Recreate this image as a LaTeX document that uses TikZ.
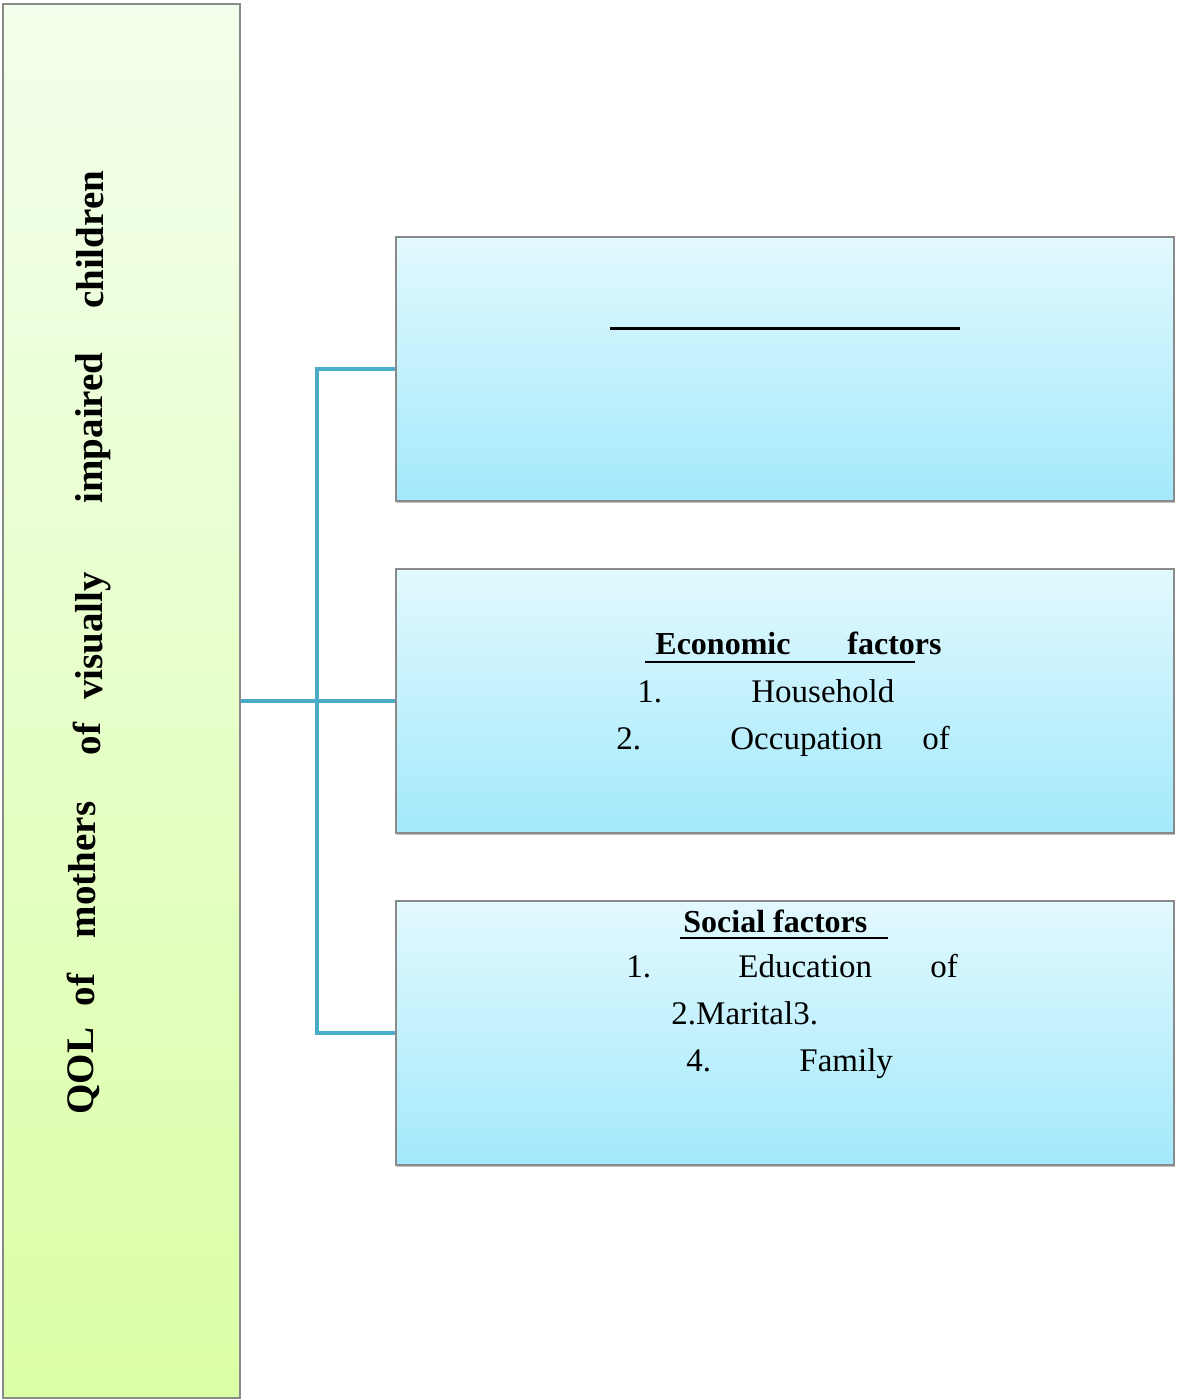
\documentclass[tikz,border=0pt]{standalone}
\usepackage{fontspec}
\setmainfont{Liberation Serif}
\usetikzlibrary{positioning,shadows}
\definecolor{clink}{HTML}{4BACC6}
\definecolor{cbartop}{HTML}{F3FFEC}
\definecolor{cbarbot}{HTML}{DBFFA6}
\definecolor{cboxtop}{HTML}{E2F9FE}
\definecolor{cboxbot}{HTML}{A3E9FB}
\definecolor{cedge}{HTML}{8A8A8A}
\tikzset{
  bar/.style={rectangle, draw=cedge, line width=0.6pt, top color=cbartop,
    bottom color=cbarbot, minimum width=118.5pt, minimum height=697pt, inner sep=0pt},
  factbox/.style={rectangle, draw=cedge, line width=0.6pt, top color=cboxtop,
    bottom color=cboxbot, minimum width=389pt, minimum height=132pt, inner sep=0pt,
    drop shadow={shadow xshift=0.4pt, shadow yshift=-1pt, fill=black, opacity=0.25}},
  link/.style={draw=clink, line width=2pt},
  barword/.style={anchor=base, rotate=90, inner sep=0pt, font=\bfseries\fontsize{19.5}{23}\selectfont},
  word/.style={anchor=base west, inner sep=0pt, font=\fontsize{16.5}{19}\selectfont},
  head/.style={word, font=\bfseries\fontsize{16}{19}\selectfont},
  uline/.style={line width=1pt},
}
\begin{document}
\begin{tikzpicture}[x=0.5pt,y=-0.5pt]
  \useasboundingbox (0,0) rectangle (1176,1400);
  % left bar and the three factor boxes
  \node[bar] (qol) at (121.5,701) {};
  \node[barword] (wqol) at (93,1071) {QOL};
  \node[barword] (wof) at (94,990) {of};
  \node[barword] (wmoth) at (95,870) {mothers};
  \node[barword] (wof2) at (100,739) {of};
  \node[barword] (wvis) at (102,636) {visually};
  \node[barword] (wimp) at (102,428) {impaired};
  \node[barword] (wchild) at (103,240) {children};
  \node[factbox] (demo) at (785,369) {};
  \node[factbox] (econ) at (785,701) {};
  \node[factbox] (social) at (785,1033) {};

  % connectors
  \coordinate (trunk) at (317,701);
  \draw[link] (qol.east |- econ.west) -- (econ.west);
  \draw[link] (demo.west) -| (trunk) |- (social.west);

  % first box
  \draw[line width=1.5pt] (610,329) -- (960,329);

  % economic factors
  \node[head] (econhead) at (655,654) {Economic};
  \node[head] (econfac) at (847,654) {factors};
  \draw[uline] (645,662) -- (915,662);
  \node[word] (e1n) at (637,702) {1.};
  \node[word] (e1t) at (751,702) {Household};
  \node[word] (e2n) at (616,749) {2.};
  \node[word] (e2t) at (730,749) {Occupation};
  \node[word] (e2of) at (922,749) {of};

  % social factors
  \node[head] (sochead) at (683,932) {Social factors};
  \draw[uline] (680,938) -- (888,938);
  \node[word] (s1n) at (626,977) {1.};
  \node[word] (s1t) at (738,977) {Education};
  \node[word] (s1of) at (930,977) {of};
  \node[word] (s2t) at (671,1024) {2.Marital3.};
  \node[word] (s4n) at (686,1071) {4.};
  \node[word] (s4t) at (799,1071) {Family};
\end{tikzpicture}
\end{document}
